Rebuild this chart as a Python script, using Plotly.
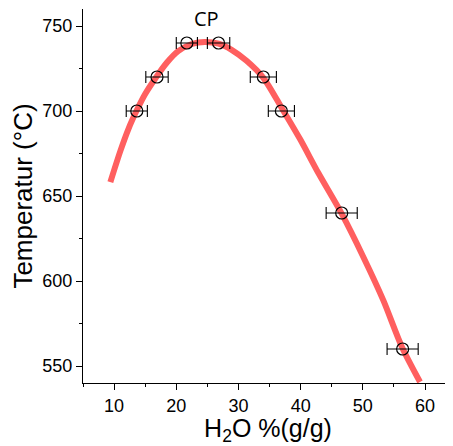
import plotly.graph_objects as go

# measured points
pt_x = [13.65, 16.9, 21.7, 26.8, 34.0, 36.9, 46.6, 56.4]
pt_y = [700, 720, 740, 740, 720, 700, 640, 560]
pt_xerr = [1.7, 1.8, 1.7, 1.8, 2.1, 2.1, 2.5, 2.5]

# fitted curve
curve_x = [9.4, 11.0, 12.3, 13.65, 15.0, 16.6, 18.5, 20.3, 22.5, 24.6, 26.8,
           28.9, 31.3, 34.0, 37.0, 39.9, 42.85, 46.6, 50.1, 53.3, 56.25, 59.2]
curve_y = [658.2, 676.4, 689.4, 700.4, 710.0, 719.0, 728.5, 735.2, 739.4, 740.6, 739.6,
           736.0, 729.5, 719.5, 701.5, 683.5, 663.5, 639.6, 614.0, 588.6, 561.5, 540.6]

x_ticks = [10, 20, 30, 40, 50, 60]
y_ticks = [550, 600, 650, 700, 750]

fig = go.Figure()
fig.add_trace(go.Scatter(
    x=curve_x, y=curve_y, mode="lines",
    line=dict(color="rgb(255,95,95)", width=6, shape="spline", smoothing=0.8),
    hoverinfo="skip", showlegend=False))
fig.add_trace(go.Scatter(
    x=pt_x, y=pt_y, mode="markers",
    marker=dict(symbol="circle-open", size=12, color="black", line=dict(width=1.2, color="black")),
    error_x=dict(type="data", array=pt_xerr, visible=True, color="black", thickness=1.1, width=6),
    showlegend=False))

fig.add_annotation(x=24.9, y=754.5, text="CP", showarrow=False,
                   font=dict(family="Open Sans", size=20, color="black"))

axis_common = dict(showline=True, linecolor="black", linewidth=1.3, showgrid=False, zeroline=False,
                   ticks="outside", ticklen=6, tickwidth=1.3, tickcolor="black", automargin=False,
                   tickfont=dict(family="Liberation Sans", size=18, color="black"), mirror=False)

fig.update_xaxes(range=[5, 64.5], tickvals=x_ticks,
                 minor=dict(dtick=5, tick0=5, ticks="outside", ticklen=3, tickwidth=1.3, tickcolor="black"),
                 title=dict(text="H<sub>2</sub>O %(g/g)", font=dict(family="Liberation Sans", size=25, color="black"), standoff=6),
                 **axis_common)
fig.update_yaxes(range=[540, 760], tickvals=y_ticks,
                 minor=dict(dtick=25, tick0=525, ticks="outside", ticklen=3, tickwidth=1.3, tickcolor="black"),
                 title=dict(text="Temperatur (°C)", font=dict(family="Liberation Sans", size=26, color="black"), standoff=10),
                 **axis_common)

# the page body adds an 8px margin, so the figure is sized to fit inside the window
fig.update_layout(width=445, height=438, margin=dict(l=75, r=0, t=1, b=63),
                  plot_bgcolor="white", paper_bgcolor="white")

fig.write_html("out.html")
